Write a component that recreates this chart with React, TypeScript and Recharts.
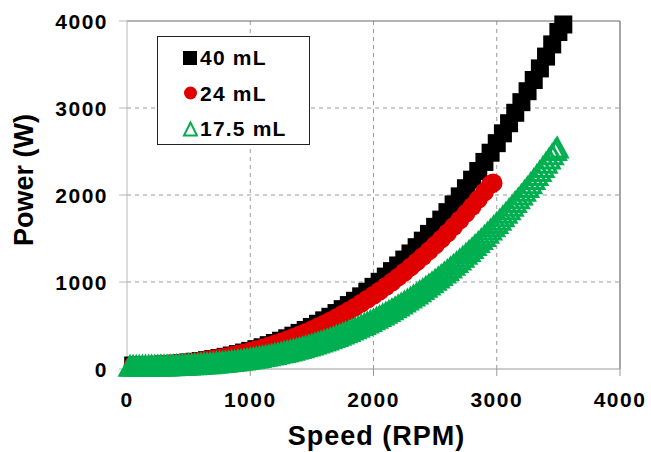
import React from "react";
import {
  ScatterChart,
  Scatter,
  XAxis,
  YAxis,
  CartesianGrid,
  Legend,
  ReferenceLine,
} from "recharts";

const FONT = "'Liberation Sans', Arial, sans-serif";

const seriesNames = ["40 mL", "24 mL", "17.5 mL"];

// 40 mL
const speed40 = [
  50, 100, 150, 200, 250, 300, 350, 400, 450, 500, 550, 600, 650, 700, 750, 800,
  850, 900, 950, 1000, 1050, 1100, 1150, 1200, 1250, 1300, 1350, 1400, 1450,
  1500, 1550, 1600, 1650, 1700, 1750, 1800, 1850, 1900, 1950, 2000, 2050, 2100,
  2150, 2200, 2250, 2300, 2350, 2400, 2450, 2500, 2550, 2600, 2650, 2700, 2750,
  2800, 2850, 2900, 2950, 3000, 3050, 3100, 3150, 3200, 3250, 3300, 3350, 3400,
  3450, 3500, 3540,
];
const power40 = [
  40, 41, 43, 45, 48, 52, 56, 61, 68, 75, 83, 92, 102, 114, 126, 140, 155, 171,
  189, 208, 228, 250, 274, 299, 325, 353, 383, 415, 448, 483, 520, 559, 600,
  643, 688, 735, 784, 835, 888, 944, 1002, 1062, 1125, 1190, 1258, 1328, 1400,
  1475, 1553, 1634, 1717, 1803, 1892, 1984, 2078, 2176, 2276, 2380, 2486, 2596,
  2709, 2825, 2945, 3067, 3193, 3322, 3455, 3591, 3731, 3874, 3960,
];

// 24 mL
const speed24 = [
  50, 100, 150, 200, 250, 300, 350, 400, 450, 500, 550, 600, 650, 700, 750, 800,
  850, 900, 950, 1000, 1050, 1100, 1150, 1200, 1250, 1300, 1350, 1400, 1450,
  1500, 1550, 1600, 1650, 1700, 1750, 1800, 1850, 1900, 1950, 2000, 2050, 2100,
  2150, 2200, 2250, 2300, 2350, 2400, 2450, 2500, 2550, 2600, 2650, 2700, 2750,
  2800, 2850, 2900, 2950, 2970,
];
const power24 = [
  40, 41, 43, 45, 48, 52, 57, 62, 69, 76, 84, 93, 103, 114, 126, 139, 154, 169,
  185, 203, 222, 242, 263, 286, 310, 335, 362, 390, 420, 451, 483, 517, 553,
  590, 629, 669, 711, 755, 801, 848, 897, 948, 1001, 1056, 1112, 1171, 1231,
  1293, 1358, 1424, 1493, 1564, 1637, 1712, 1789, 1868, 1950, 2034, 2120, 2138,
];

// 17.5 mL
const speed17 = [
  25, 50, 75, 100, 125, 150, 175, 200, 225, 250, 275, 300, 325, 350, 375, 400,
  425, 450, 475, 500, 525, 550, 575, 600, 625, 650, 675, 700, 725, 750, 775,
  800, 825, 850, 875, 900, 925, 950, 975, 1000, 1025, 1050, 1075, 1100, 1125,
  1150, 1175, 1200, 1225, 1250, 1275, 1300, 1325, 1350, 1375, 1400, 1425, 1450,
  1475, 1500, 1525, 1550, 1575, 1600, 1625, 1650, 1675, 1700, 1725, 1750, 1775,
  1800, 1825, 1850, 1875, 1900, 1925, 1950, 1975, 2000, 2025, 2050, 2075, 2100,
  2125, 2150, 2175, 2200, 2225, 2250, 2275, 2300, 2325, 2350, 2375, 2400, 2425,
  2450, 2475, 2500, 2525, 2550, 2575, 2600, 2625, 2650, 2675, 2700, 2725, 2750,
  2775, 2800, 2825, 2850, 2875, 2900, 2925, 2950, 2975, 3000, 3025, 3050, 3075,
  3100, 3125, 3150, 3175, 3200, 3225, 3250, 3275, 3300, 3325, 3350, 3375, 3400,
  3425, 3450, 3475, 3490,
];
const power17 = [
  25, 25, 25, 25, 26, 26, 26, 27, 27, 28, 29, 30, 30, 31, 33, 34, 35, 37, 38,
  40, 42, 44, 46, 49, 51, 54, 56, 59, 63, 66, 69, 73, 77, 81, 85, 90, 94, 99,
  104, 110, 115, 121, 127, 134, 140, 147, 154, 161, 169, 177, 185, 193, 202,
  211, 220, 229, 239, 249, 260, 271, 282, 293, 305, 317, 329, 342, 355, 369,
  383, 397, 411, 426, 442, 457, 473, 490, 507, 524, 541, 559, 578, 597, 616,
  636, 656, 676, 697, 719, 741, 763, 786, 809, 833, 857, 882, 907, 933, 959,
  985, 1013, 1040, 1068, 1097, 1126, 1156, 1186, 1217, 1248, 1280, 1312, 1345,
  1378, 1413, 1447, 1482, 1518, 1554, 1591, 1629, 1667, 1705, 1745, 1784, 1825,
  1866, 1908, 1950, 1993, 2036, 2080, 2125, 2171, 2217, 2264, 2311, 2359, 2408,
  2457, 2507, 2535,
];

const axisTicks = [0, 1000, 2000, 3000, 4000];
const gridTicks = [1000, 2000, 3000];

const toPoints = (xs: number[], ys: number[]) =>
  xs.map((x, i) => ({ x, y: ys[i] }));

const BLACK = "#000000";
const RED = "#e00000";
const GREEN = "#00b050";

const SquareDot = (props: any) => {
  const { cx, cy } = props;
  if (cx == null || cy == null) return null;
  return <rect x={cx - 9} y={cy - 9} width={18} height={18} fill={BLACK} />;
};

const CircleDot = (props: any) => {
  const { cx, cy } = props;
  if (cx == null || cy == null) return null;
  return <circle cx={cx} cy={cy} r={9.5} fill={RED} />;
};

const TriangleDot = (props: any) => {
  const { cx, cy } = props;
  if (cx == null || cy == null) return null;
  const pts = `${cx},${cy - 10} ${cx - 10},${cy + 8.5} ${cx + 10},${cy + 8.5}`;
  return <polygon points={pts} fill="none" stroke={GREEN} strokeWidth={3} />;
};

const XTick = (props: any) => {
  const { x, y, payload } = props;
  return (
    <text
      x={x}
      y={y + 15}
      textAnchor="middle"
      fill="#000"
      style={{ fontFamily: FONT, fontSize: 21, fontWeight: "bold", letterSpacing: "1.5px" }}
    >
      {payload.value}
    </text>
  );
};

const YTick = (props: any) => {
  const { x, y, payload } = props;
  return (
    <text
      x={x}
      y={y + 7.5}
      textAnchor="end"
      fill="#000"
      style={{ fontFamily: FONT, fontSize: 21, fontWeight: "bold", letterSpacing: "1.5px" }}
    >
      {payload.value}
    </text>
  );
};

const XLabel = (props: any) => {
  const { viewBox } = props;
  return (
    <text
      x={viewBox.x + viewBox.width / 2 + 3}
      y={viewBox.y + 76}
      textAnchor="middle"
      fill="#000"
      style={{ fontFamily: FONT, fontSize: 27, fontWeight: "bold", letterSpacing: "1px" }}
    >
      Speed (RPM)
    </text>
  );
};

const YLabel = (props: any) => {
  const { viewBox } = props;
  const x = 24;
  const y = viewBox.y + viewBox.height / 2 - 15;
  return (
    <text
      x={x}
      y={y}
      transform={`rotate(-90, ${x}, ${y})`}
      textAnchor="middle"
      dominantBaseline="central"
      fill="#000"
      style={{ fontFamily: FONT, fontSize: 27, fontWeight: "bold" }}
    >
      Power (W)
    </text>
  );
};

const LegendIcon = ({ type, color }: { type: string; color: string }) => (
  <svg width={16} height={18} style={{ display: "block", flex: "none" }}>
    {type === "square" && <rect x={1} y={2} width={14} height={14} fill={color} />}
    {type === "circle" && <circle cx={8.5} cy={9} r={6.5} fill={color} />}
    {type === "triangle" && (
      <polygon points="8.5,2.5 2,15.5 15,15.5" fill="none" stroke={color} strokeWidth={2} />
    )}
  </svg>
);

const renderLegend = (props: any) => {
  const items = [...(props.payload || [])].sort(
    (a: any, b: any) => seriesNames.indexOf(a.value) - seriesNames.indexOf(b.value)
  );
  return (
    <div
      style={{
        boxSizing: "border-box",
        width: 153,
        height: 109,
        border: "1px solid #222",
        background: "#fff",
        paddingTop: 3,
        paddingLeft: 24,
      }}
    >
      {items.map((entry: any) => (
        <div
          key={entry.value}
          style={{ display: "flex", alignItems: "center", height: 35.5 }}
        >
          <LegendIcon type={entry.type} color={entry.color} />
          <span
            style={{
              marginLeft: 2,
              fontFamily: FONT,
              fontSize: 21,
              fontWeight: "bold",
              letterSpacing: "1.2px",
              color: "#000",
              lineHeight: 1,
            }}
          >
            {entry.value}
          </span>
        </div>
      ))}
    </div>
  );
};

export default function App() {
  return (
    <div style={{ position: "absolute", left: 0, top: 0, background: "#fff" }}>
      <ScatterChart
        width={651}
        height={452}
        margin={{ top: 21, right: 31, bottom: 0, left: 0 }}
      >
        <CartesianGrid
          stroke="#9a9a9a"
          strokeDasharray="4 4"
          horizontalValues={gridTicks}
          verticalValues={gridTicks}
        />
        <XAxis
          type="number"
          dataKey="x"
          domain={[0, 4000]}
          ticks={axisTicks}
          height={83}
          stroke="#9a9a9a"
          tickSize={7}
          tickMargin={16}
          tick={<XTick />}
          label={XLabel}
          interval={0}
        />
        <YAxis
          type="number"
          dataKey="y"
          domain={[0, 4000]}
          ticks={axisTicks}
          width={127}
          stroke="#b8b8b8"
          tickSize={8}
          tickMargin={11}
          tick={<YTick />}
          label={YLabel}
          interval={0}
        />
        <ReferenceLine y={4000} stroke="#6a6a6a" strokeWidth={1.2} />
        <ReferenceLine x={4000} stroke="#6a6a6a" strokeWidth={1.2} />
        <Legend
          content={renderLegend}
          layout="vertical"
          align="center"
          verticalAlign="middle"
          wrapperStyle={{ left: 157, top: 36, width: 153 }}
        />
        <Scatter
          name={seriesNames[0]}
          data={toPoints(speed40, power40)}
          fill={BLACK}
          legendType="square"
          shape={SquareDot}
          isAnimationActive={false}
        />
        <Scatter
          name={seriesNames[1]}
          data={toPoints(speed24, power24)}
          fill={RED}
          legendType="circle"
          shape={CircleDot}
          isAnimationActive={false}
        />
        <Scatter
          name={seriesNames[2]}
          data={toPoints(speed17, power17)}
          fill={GREEN}
          legendType="triangle"
          shape={TriangleDot}
          isAnimationActive={false}
        />
      </ScatterChart>
    </div>
  );
}
